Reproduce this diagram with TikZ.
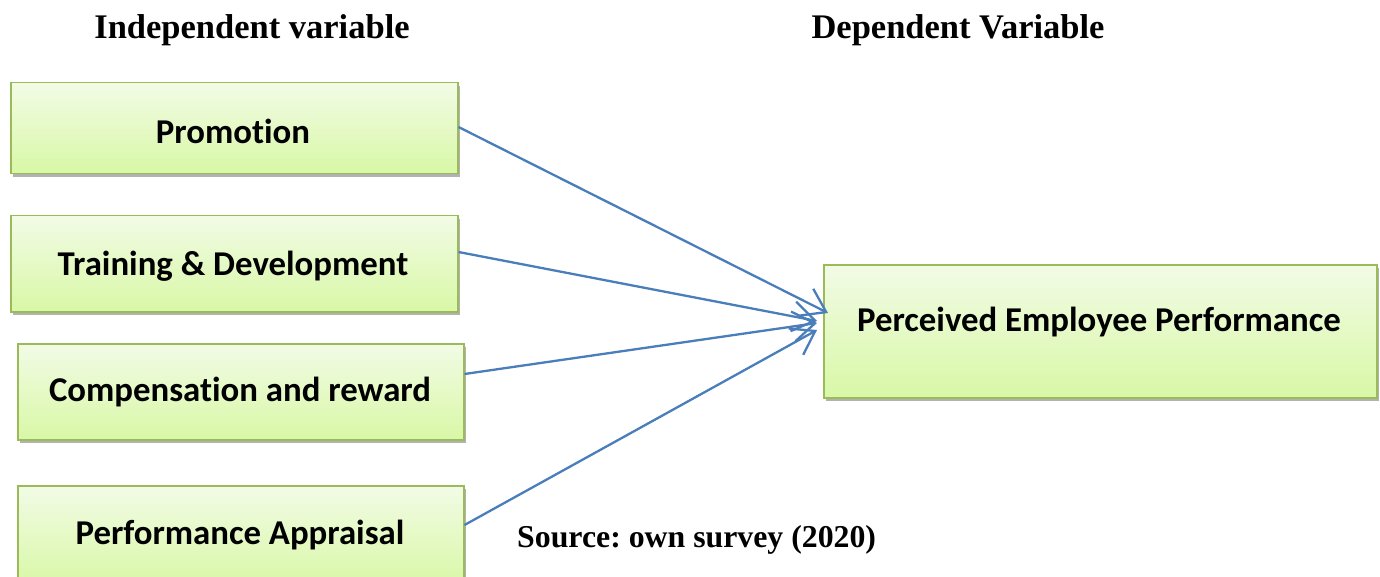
\documentclass[tikz,border=0pt]{standalone}
\usepackage{fontspec}
\setmainfont{Liberation Serif}
\newfontfamily\boxfont[RawFeature=-liga]{Carlito}
\usetikzlibrary{arrows.meta,shadows,calc}
\definecolor{boxborder}{HTML}{9BBB59}
\definecolor{boxtop}{HTML}{F2FBE6}
\definecolor{boxbot}{HTML}{D8F8A6}
\definecolor{arrowblue}{HTML}{4A7EBB}
\frenchspacing
\tikzset{
  varbox/.style={draw=boxborder, line width=1.5pt, top color=boxtop, bottom color=boxbot,
    anchor=north west, inner sep=0pt,
    drop shadow={shadow xshift=2pt, shadow yshift=-3pt, fill=black, opacity=0.3}},
  boxtext/.style={font=\boxfont\bfseries\fontsize{34.8}{38}\selectfont, inner sep=0pt},
  heading/.style={font=\bfseries\fontsize{34.5}{38}\selectfont, inner sep=0pt},
  link/.style={draw=arrowblue, line width=2.3pt, -{Straight Barb[length=22pt,width=30pt,line width=2.3pt]}}
}
\begin{document}
\begin{tikzpicture}[x=1pt,y=-1pt]
\useasboundingbox (0,0) rectangle (1380,577);
\node[heading] (hind) at (252,30) {Independent variable};
\node[heading] (hdep) at (958,30) {Dependent Variable};
\node[varbox, minimum width=447pt, minimum height=91pt] (prom) at (10,82) {};
\node[boxtext] (promt) at (233,131) {Promotion};
\node[varbox, minimum width=447pt, minimum height=96pt] (train) at (10,215) {};
\node[boxtext] (traint) at (233,266) {Training \& Development};
\node[varbox, minimum width=446pt, minimum height=96pt] (comp) at (17,343) {};
\node[boxtext] (compt) at (240,392) {Compensation and reward};
\node[varbox, minimum width=446pt, minimum height=100pt] (appr) at (17,485) {};
\node[boxtext] (apprt) at (240,535) {Performance Appraisal};
\node[varbox, minimum width=553pt, minimum height=133pt] (perf) at (823,264) {};
\node[boxtext] (perft) at (1099,322) {Perceived Employee Performance};
\node[font=\bfseries\fontsize{31.8}{34}\selectfont, anchor=west, inner sep=0pt] (src) at (517,540) {Source: own survey (2020)};
\coordinate (t1) at (828,313);
\coordinate (t2) at (817,321);
\coordinate (t3) at (817,323);
\coordinate (t4) at (817,330);
\draw[link] (prom.east |- 0,127) -- (t1);
\draw[link] (train.east |- 0,252) -- (t2);
\draw[link] (comp.east |- 0,374) -- (t3);
\draw[link] (appr.east |- 0,525) -- (t4);
\end{tikzpicture}
\end{document}
